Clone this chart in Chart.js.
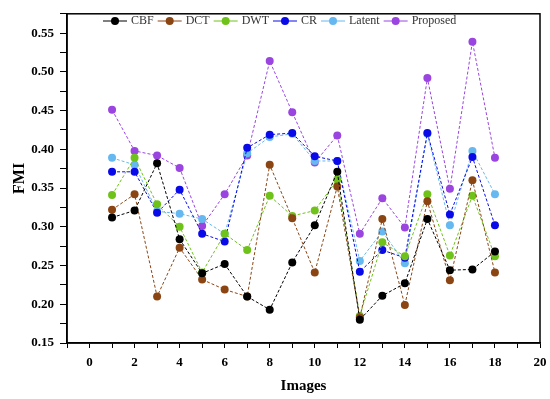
<!DOCTYPE html>
<html>
<head>
<meta charset="utf-8">
<script src="https://cdn.jsdelivr.net/npm/chart.js@4.4.0/dist/chart.umd.min.js"></script>
<style>
  body { margin: 0; background: #fff; }
  #wrap { width: 550px; height: 399px; }
</style>
</head>
<body>
<div id="wrap"><canvas id="fmi"></canvas></div>
<script>
var images = [1, 2, 3, 4, 5, 6, 7, 8, 9, 10, 11, 12, 13, 14, 15, 16, 17, 18];
var cbf      = [0.312, 0.321, 0.382, 0.284, 0.240, 0.252, 0.210, 0.193, 0.254, 0.302, 0.371, 0.180, 0.211, 0.227, 0.310, 0.244, 0.245, 0.268];
var dct      = [0.322, 0.342, 0.210, 0.273, 0.232, 0.219, 0.210, 0.380, 0.311, 0.241, 0.352, 0.183, 0.310, 0.199, 0.333, 0.231, 0.360, 0.241];
var dwt      = [0.341, 0.389, 0.329, 0.300, 0.241, 0.291, 0.270, 0.340, 0.314, 0.321, 0.361, 0.185, 0.280, 0.262, 0.342, 0.263, 0.340, 0.262];
var cr       = [0.371, 0.371, 0.318, 0.348, 0.291, 0.281, 0.402, 0.419, 0.421, 0.391, 0.385, 0.242, 0.270, 0.260, 0.421, 0.316, 0.390, 0.302];
var latent   = [0.389, 0.380, 0.320, 0.317, 0.310, 0.291, 0.395, 0.416, 0.420, 0.385, 0.385, 0.256, 0.294, 0.253, 0.420, 0.302, 0.398, 0.342];
var proposed = [0.451, 0.398, 0.392, 0.376, 0.301, 0.342, 0.392, 0.514, 0.448, 0.383, 0.418, 0.291, 0.337, 0.299, 0.492, 0.349, 0.539, 0.389];

var seriesNames = ['CBF', 'DCT', 'DWT', 'CR', 'Latent', 'Proposed'];
var seriesColors = ['#000000', '#8B4513', '#6FC21A', '#0A0AE8', '#66B8F0', '#9A45E0'];
var seriesValues = [cbf, dct, dwt, cr, latent, proposed];

function pts(vals) {
    return images.map(function (x, i) { return { x: x, y: vals[i] }; });
}

var datasets = seriesValues.map(function (vals, k) {
    return {
        label: seriesNames[k],
        data: pts(vals),
        borderColor: seriesColors[k],
        backgroundColor: seriesColors[k],
        borderWidth: 1,
        borderDash: [3, 2],
        pointRadius: 4,
        pointBorderWidth: 0,
        tension: 0
    };
});

var serif = '"Liberation Serif", "DejaVu Serif", serif';

// legend drawn inside the plot, plus the frame around the chart area
var framePlugin = {
    id: 'frame',
    afterDraw: function (chart) {
        var c = chart.ctx, a = chart.chartArea;
        c.save();
        c.strokeStyle = '#000';
        c.lineWidth = 1.5;
        c.strokeRect(a.left, a.top, a.right - a.left, a.bottom - a.top);

        c.font = '12px ' + serif;
        c.textBaseline = 'middle';
        var x = 103, y = 21;
        chart.data.datasets.forEach(function (ds) {
            c.strokeStyle = ds.borderColor;
            c.lineWidth = 1;
            c.beginPath();
            c.moveTo(x, y);
            c.lineTo(x + 24, y);
            c.stroke();
            c.fillStyle = ds.backgroundColor;
            c.beginPath();
            c.arc(x + 12, y, 4, 0, Math.PI * 2);
            c.fill();
            c.fillStyle = '#333';
            c.fillText(ds.label, x + 28, y);
            x += 28 + c.measureText(ds.label).width + 4;
        });
        c.restore();
    }
};

var ctx = document.getElementById('fmi').getContext('2d');
var myChart = new Chart(ctx, {
    type: 'line',
    data: { datasets: datasets },
    options: {
        responsive: true,
        maintainAspectRatio: false,
        animation: false,
        layout: { padding: { top: 12, right: 10, left: 4, bottom: 0 } },
        plugins: {
            legend: { display: false },
            tooltip: { enabled: false }
        },
        scales: {
            x: {
                type: 'linear',
                min: -1,
                max: 20,
                afterFit: function (s) {
                    s.height = 56;
                    s.paddingRight = 0;
                    s.paddingLeft = 0;
                },
                ticks: {
                    stepSize: 1,
                    padding: 7,
                    color: '#000',
                    font: { family: serif, size: 13, weight: 'bold' },
                    maxRotation: 0,
                    autoSkip: false,
                    callback: function (v) { return v % 2 === 0 ? v : ''; }
                },
                grid: { drawOnChartArea: false, tickLength: 5, color: '#000' },
                border: { color: '#000', width: 1.5 },
                title: {
                    display: true,
                    text: 'Images',
                    color: '#000',
                    font: { family: serif, size: 15, weight: 'bold' },
                    padding: { top: 2 }
                }
            },
            y: {
                min: 0.15,
                max: 0.575,
                afterFit: function (s) { s.width = 63; },
                ticks: {
                    stepSize: 0.025,
                    padding: 6,
                    color: '#000',
                    font: { family: serif, size: 13, weight: 'bold' },
                    autoSkip: false,
                    callback: function (v) {
                        var r = Math.round(v * 1000);
                        return r % 50 === 0 ? (r / 1000).toFixed(2) : '';
                    }
                },
                grid: { drawOnChartArea: false, tickLength: 7, color: '#000' },
                border: { color: '#000', width: 1.5 },
                title: {
                    display: true,
                    text: 'FMI',
                    color: '#000',
                    font: { family: serif, size: 16, weight: 'bold' },
                    padding: { top: 6, bottom: 0 }
                }
            }
        }
    },
    plugins: [framePlugin]
});
</script>
</body>
</html>
